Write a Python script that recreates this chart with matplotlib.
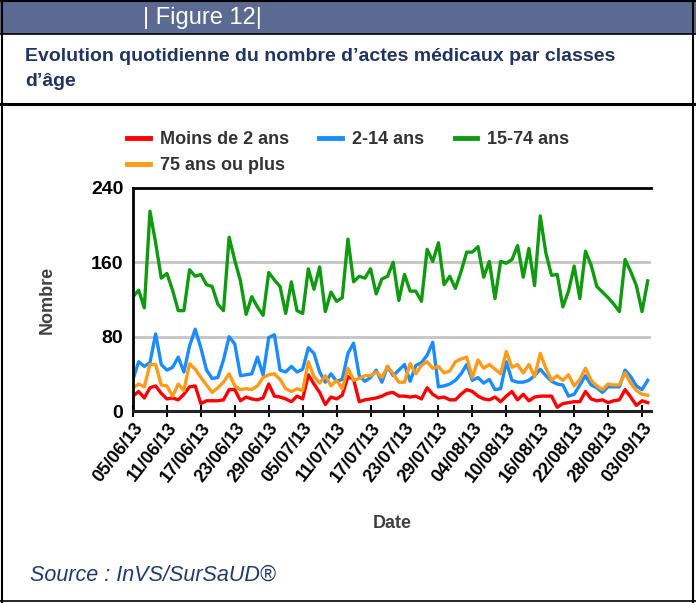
import matplotlib
matplotlib.use('Agg')
import matplotlib.pyplot as plt
import matplotlib.dates as mdates
from matplotlib import font_manager
from matplotlib.patches import Rectangle
from matplotlib.lines import Line2D
import pandas as pd

# daily counts, 05/06/13 -> 04/09/13
dates = pd.date_range('2013-06-05', periods=92, freq='D')

moins_2 = [16, 21, 14, 25, 27, 19, 13, 14, 12, 18,
           26, 27, 8, 11, 11, 11, 12, 23, 23, 11,
           15, 13, 12, 14, 29, 16, 15, 13, 10, 16,
           13, 39, 29, 20, 7, 15, 13, 17, 37, 34,
           10, 12, 13, 14, 16, 19, 20, 16, 16, 15,
           16, 13, 25, 18, 14, 15, 12, 12, 18, 23,
           21, 16, 13, 12, 15, 10, 16, 21, 12, 18,
           11, 15, 16, 16, 16, 4, 8, 9, 10, 10,
           21, 13, 11, 12, 9, 11, 12, 23, 15, 6,
           11, 9]

ans_2_14 = [34, 53, 48, 52, 83, 50, 44, 47, 58, 42,
            70, 88, 68, 44, 35, 36, 55, 80, 72, 38,
            39, 40, 58, 39, 79, 82, 44, 42, 48, 42,
            45, 68, 62, 42, 31, 40, 32, 34, 62, 73,
            38, 32, 36, 44, 31, 48, 38, 44, 50, 32,
            49, 52, 60, 74, 26, 27, 29, 33, 40, 50,
            33, 36, 30, 34, 23, 24, 53, 33, 31, 31,
            33, 38, 45, 38, 32, 29, 28, 16, 18, 28,
            38, 28, 25, 20, 26, 26, 26, 44, 37, 27,
            23, 33]

ans_15_74 = [123, 130, 111, 215, 181, 143, 148, 130, 108, 108,
             152, 145, 147, 136, 134, 115, 108, 187, 162, 140,
             104, 123, 112, 103, 149, 141, 134, 105, 139, 108,
             105, 153, 131, 155, 107, 128, 118, 122, 185, 139,
             145, 143, 153, 126, 142, 145, 160, 119, 147, 129,
             129, 118, 174, 161, 181, 136, 145, 132, 150, 171,
             171, 177, 144, 161, 121, 161, 159, 163, 178, 144,
             175, 135, 210, 170, 146, 147, 112, 129, 156, 121,
             172, 157, 134, 128, 122, 115, 107, 163, 150, 135,
             107, 140]

ans_75 = [25, 29, 26, 50, 50, 28, 27, 16, 29, 22,
          51, 45, 36, 28, 20, 25, 31, 40, 27, 23,
          24, 23, 27, 36, 39, 40, 34, 24, 21, 24,
          22, 53, 37, 30, 38, 27, 33, 24, 46, 33,
          35, 38, 38, 42, 36, 48, 40, 31, 31, 51,
          40, 49, 53, 46, 48, 41, 43, 53, 56, 58,
          36, 55, 46, 50, 45, 40, 64, 47, 50, 41,
          50, 37, 62, 46, 33, 38, 33, 39, 27, 34,
          46, 33, 27, 23, 29, 28, 28, 41, 30, 22,
          18, 17]

labels = ['Moins de 2 ans', '2-14 ans', '15-74 ans', '75 ans ou plus']
colors = ['#ff0000', '#1a8cff', '#109a10', '#ff9a1a']

# fonts: a narrow face if the system has one
available = {f.name for f in font_manager.fontManager.ttflist}
def pick(*names):
    for n in names:
        if n in available:
            return n
    return 'DejaVu Sans'
sans = pick('Liberation Sans', 'Arial')
narrow = pick('Liberation Sans Narrow', 'Arial Narrow', 'Liberation Sans')
plt.rcParams['font.family'] = [sans, 'DejaVu Sans']

W, H = 696, 603
fig = plt.figure(figsize=(W/100, H/100), dpi=100)

def fx(px): return px/W
def fy(py): return 1 - py/H

# page frame and header
fig.patches.append(Rectangle((0, fy(34)), 1, fy(0)-fy(34), transform=fig.transFigure,
                             facecolor='#5a6a90', edgecolor='none'))
for yy, lw in [(1, 1.5), (34, 1.2), (104, 2.2), (601, 1.2)]:
    fig.add_artist(Line2D([0, 1], [fy(yy), fy(yy)], transform=fig.transFigure,
                          color='black', lw=lw))
for xx in [1.5, 693]:
    fig.add_artist(Line2D([fx(xx), fx(xx)], [0, 1], transform=fig.transFigure,
                          color='black', lw=1.5))

fig.text(fx(143), fy(18), '| Figure 12|', color='white', fontsize=17,
         va='center', ha='left')
fig.text(fx(25), fy(48), 'Evolution quotidienne du nombre d’actes médicaux par classes\nd’âge',
         color='#1f3560', fontsize=14, fontweight='bold', family=narrow,
         va='top', ha='left', linespacing=1.6)
fig.text(fx(30), fy(575), 'Source : InVS/SurSaUD®', color='#1f3a70', fontsize=15.5,
         style='italic', va='center', ha='left')

# chart
ax = fig.add_axes([fx(133), fy(411), fx(651)-fx(133), fy(188)-fy(411)])
series = [moins_2, ans_2_14, ans_15_74, ans_75]
handles = []
for vals, lab, col in zip(series, labels, colors):
    h, = ax.plot(dates, vals, color=col, lw=2.4, label=lab)
    handles.append(h)

ax.set_ylim(0, 240)
ax.set_yticks([0, 80, 160, 240])
ax.set_xlim(dates[0], dates[-1] + pd.Timedelta(hours=14))
ticks = pd.date_range('2013-06-05', '2013-09-03', freq='6D')
ax.set_xticks(ticks)
ax.xaxis.set_major_formatter(mdates.DateFormatter('%d/%m/%y'))

for y in [80, 160]:
    ax.axhline(y, color='#c4c4c4', lw=2, zorder=0)

ax.spines['right'].set_visible(False)
ax.spines['left'].set_linewidth(2)
ax.spines['top'].set_linewidth(2)
ax.spines['bottom'].set_linewidth(2.2)
ax.spines['bottom'].set_color('#222222')

ax.tick_params(axis='y', length=0, pad=7, labelsize=14)
ax.tick_params(axis='x', direction='inout', length=8, width=1.5, pad=2, labelsize=13)
for t in ax.get_yticklabels():
    t.set_fontweight('bold')
    t.set_family(narrow)
for t in ax.get_xticklabels():
    t.set_fontweight('bold')
    t.set_family(narrow)
    t.set_rotation(52)
    t.set_ha('right')
    t.set_va('top')
    t.set_rotation_mode('anchor')

ax.set_ylabel('Nombre', fontsize=13, fontweight='bold', color='#404040', family=narrow)
ax.yaxis.set_label_coords(-0.15, 0.5)
ax.set_xlabel('Date', fontsize=13, fontweight='bold', color='#404040', family=narrow)
ax.xaxis.set_label_coords(0.5, -0.465)

order = [0, 3, 1, 2]
leg = fig.legend([handles[i] for i in order], [labels[i] for i in order],
                 loc='upper left', bbox_to_anchor=(fx(127), fy(131)), ncol=3,
                 frameon=False, borderpad=0, borderaxespad=0, handlelength=1.25,
                 handletextpad=0.55, columnspacing=1.7, labelspacing=0.5,
                 prop={'family': narrow, 'weight': 'bold', 'size': 13})
for t in leg.get_texts():
    t.set_color('#333333')
for l in leg.get_lines():
    l.set_linewidth(3.5)

fig.savefig('out.png', dpi=100)
